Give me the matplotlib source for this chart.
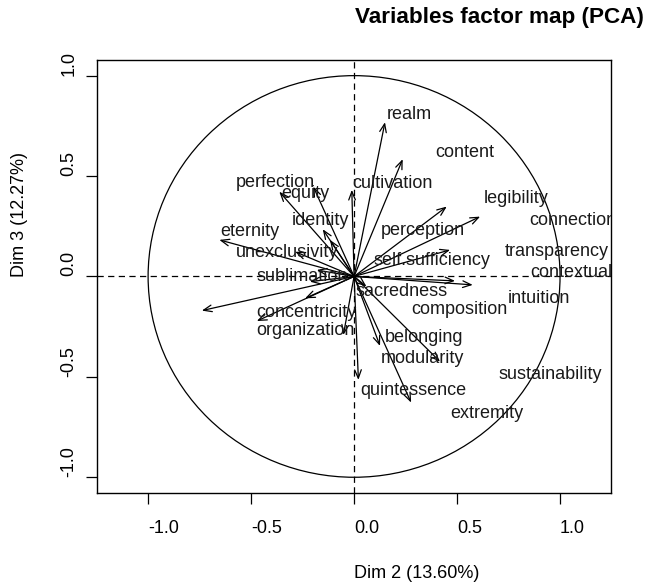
import numpy as np
import matplotlib

matplotlib.use("Agg")
import matplotlib.pyplot as plt
from matplotlib.patches import Circle

plt.rcParams["font.family"] = ["Liberation Sans", "DejaVu Sans"]

# variable names, arrow coordinates (Dim 2, Dim 3) and label positions
variables = [
    "realm", "content", "cultivation", "perfection", "equity", "identity",
    "legibility", "connection", "eternity", "unexclusivity", "perception",
    "transparency", "self.sufficiency", "contextuality", "sublimation",
    "sacredness", "intuition", "composition", "concentricity", "organization",
    "belonging", "modularity", "quintessence", "sustainability", "extremity",
]
dim2 = [0.150, 0.236, -0.011, -0.363, -0.198, -0.152, 0.612, -0.117, -0.654,
        -0.286, 0.450, 0.490, 0.466, 0.576, -0.214, 0.060, -0.181, -0.739,
        -0.472, -0.052, 0.126, 0.417, 0.021, -0.238, 0.277]
dim3 = [0.768, 0.584, 0.431, 0.422, 0.447, 0.235, 0.298, 0.182, 0.182,
        0.123, 0.348, -0.022, 0.132, -0.042, -0.026, -0.050, 0.032, -0.170,
        -0.222, -0.291, -0.346, -0.424, -0.515, -0.109, -0.628]
label_x = [0.269, 0.535, 0.184, -0.380, -0.238, -0.165, 0.785, 1.063, -0.508,
           -0.323, 0.333, 0.984, 0.377, 1.097, -0.252, 0.232, 0.897, 0.511,
           -0.233, -0.238, 0.340, 0.330, 0.290, 0.951, 0.644]
label_y = [0.804, 0.618, 0.461, 0.466, 0.411, 0.278, 0.389, 0.281, 0.223,
           0.119, 0.227, 0.124, 0.079, 0.019, -0.001, -0.076, -0.109, -0.163,
           -0.180, -0.271, -0.305, -0.407, -0.570, -0.487, -0.681]

ticks = [-1.0, -0.5, 0.0, 0.5, 1.0]
tick_labels = ["-1.0", "-0.5", "0.0", "0.5", "1.0"]

fig = plt.figure(figsize=(6.49, 5.84), dpi=100, facecolor="white")
ax = fig.add_axes([0.1495, 0.1563, 0.7915, 0.741])
ax.set_xlim(-1.248, 1.246)
ax.set_ylim(-1.077, 1.078)

ax.add_patch(Circle((0, 0), 1.0, fill=False, edgecolor="black", lw=0.9))
ax.axhline(0, color="black", lw=0.9, ls=(0, (5, 3.5)))
ax.axvline(0, color="black", lw=0.9, ls=(0, (5, 3.5)))

for x, y in zip(dim2, dim3):
    ax.annotate(
        "",
        xy=(x, y),
        xytext=(0, 0),
        arrowprops={
            "arrowstyle": "->,head_length=0.6,head_width=0.24",
            "color": "black",
            "lw": 0.9,
            "shrinkA": 0,
            "shrinkB": 0,
        },
    )

for name, lx, ly in zip(variables, label_x, label_y):
    t = ax.text(lx, ly, name, ha="center", va="center", fontsize=13, color="#1a1a1a")
    t.set_clip_on(True)

# tick labels start at the tick (as in the source image)
ax.set_xticks(ticks)
ax.set_xticklabels(tick_labels, ha="left")
ax.set_yticks(ticks)
ax.set_yticklabels(tick_labels, rotation=90, va="bottom")
ax.tick_params(axis="both", direction="out", length=7.6, width=0.9, labelsize=13)
ax.tick_params(axis="x", pad=12)
ax.tick_params(axis="y", pad=6.5)
for sp in ax.spines.values():
    sp.set_linewidth(1.0)

fig.text(355 / 649, 1 - 18 / 584, "Variables factor map (PCA)", ha="left", va="center",
         fontsize=16.2, fontweight="bold")
fig.text(354 / 649, 1 - 573 / 584, "Dim 2 (13.60%)", ha="left", va="center", fontsize=13)
fig.text(20 / 649, 1 - 277 / 584, "Dim 3 (12.27%)", ha="center", va="bottom",
         fontsize=13, rotation=90)

fig.savefig("out.png", dpi=100, facecolor="white")
